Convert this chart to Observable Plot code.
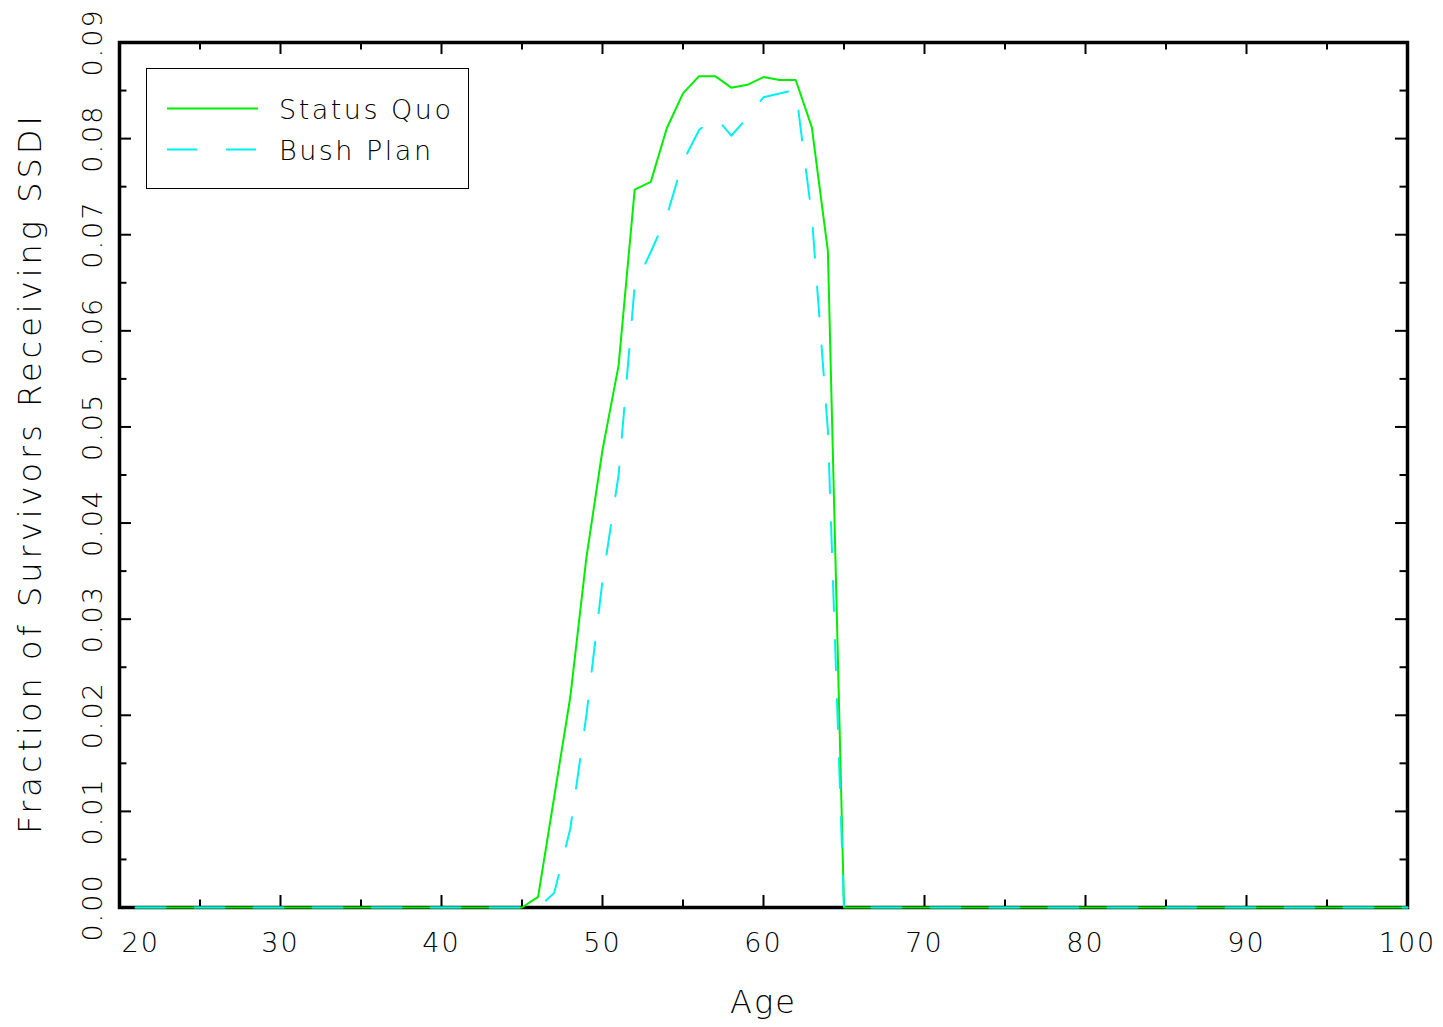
<!DOCTYPE html>
<html>
<head>
<meta charset="utf-8">
<script src="https://cdn.jsdelivr.net/npm/d3@7"></script>
<script src="https://cdn.jsdelivr.net/npm/@observablehq/plot@0.6"></script>
<style>
  body { margin: 0; background: #fff; }
  #wrap { position: relative; width: 1443px; height: 1027px; font-family: "DejaVu Sans", sans-serif; }
  #wrap svg text { letter-spacing: 2px; font-weight: 300; }
  #legend { position: absolute; left: 146px; top: 68px; width: 321px; height: 119px; border: 1.5px solid #000; background: #fff; }
  #legend svg { position: absolute; left: 0; top: 0; }
  .lt { position: absolute; left: 132px; font-size: 27px; letter-spacing: 2.5px; line-height: 1; color: #000; font-weight: 300; }
</style>
</head>
<body>
<div id="wrap"></div>
<script>
// Ages and series values (fraction of survivors receiving SSDI)
const ages = d3.range(21, 101);
const statusQuoNonZero = {46: 0.0011, 47: 0.0115, 48: 0.0219, 49: 0.0364, 50: 0.0476, 51: 0.0564, 52: 0.0747, 53: 0.0755, 54: 0.0811, 55: 0.0847, 56: 0.0865, 57: 0.0865, 58: 0.0853, 59: 0.0856, 60: 0.0864, 61: 0.0861, 62: 0.0861, 63: 0.0812, 64: 0.0683};
const bushPlanNonZero = {47: 0.0015, 48: 0.0082, 49: 0.0200, 50: 0.0340, 51: 0.0450, 52: 0.0647, 53: 0.0682, 54: 0.0720, 55: 0.0776, 56: 0.0809, 57: 0.0823, 58: 0.0803, 59: 0.0822, 60: 0.0843, 61: 0.0847, 62: 0.0851, 63: 0.0720, 64: 0.0496};
const seriesNames = ["Status Quo", "Bush Plan"];
const xTickLabels = [20, 30, 40, 50, 60, 70, 80, 90, 100];
const xMinorTicks = [25, 35, 45, 55, 65, 75, 85, 95];
const yTickLabels = [0, 0.01, 0.02, 0.03, 0.04, 0.05, 0.06, 0.07, 0.08, 0.09];
const yMinorTicks = [0.005, 0.015, 0.025, 0.035, 0.045, 0.055, 0.065, 0.075, 0.085];
const xTitle = "Age";
const yTitle = "Fraction of Survivors Receiving SSDI";

const sq = ages.map(a => ({age: a, value: statusQuoNonZero[a] ?? 0}));
const bp = ages.map(a => ({age: a, value: bushPlanNonZero[a] ?? 0}));

const GREEN = "#00ee00", CYAN = "#00f0f0";
const MAJ = 12, MIN = 7.5;

const chart = Plot.plot({
  width: 1443, height: 1027,
  marginLeft: 119, marginRight: 36, marginTop: 42, marginBottom: 120,
  x: {domain: [20, 100], axis: null},
  y: {domain: [0, 0.09], axis: null},
  style: {fontFamily: "DejaVu Sans, sans-serif", background: "#fff", overflow: "visible"},
  marks: [
    // ticks bottom / top
    Plot.ruleX(xTickLabels, {x: d => d, y1: 0, y2: 0, insetBottom: MAJ, stroke: "#000", strokeWidth: 2}),
    Plot.ruleX(xMinorTicks, {x: d => d, y1: 0, y2: 0, insetBottom: MIN, stroke: "#000", strokeWidth: 2}),
    Plot.ruleX(xTickLabels, {x: d => d, y1: 0.09, y2: 0.09, insetBottom: -MAJ, stroke: "#000", strokeWidth: 2}),
    Plot.ruleX(xMinorTicks, {x: d => d, y1: 0.09, y2: 0.09, insetBottom: -MIN, stroke: "#000", strokeWidth: 2}),
    // ticks left / right
    Plot.ruleY(yTickLabels, {y: d => d, x1: 20, x2: 20, insetRight: -MAJ, stroke: "#000", strokeWidth: 2}),
    Plot.ruleY(yMinorTicks, {y: d => d, x1: 20, x2: 20, insetRight: -MIN, stroke: "#000", strokeWidth: 2}),
    Plot.ruleY(yTickLabels, {y: d => d, x1: 100, x2: 100, insetRight: MAJ, stroke: "#000", strokeWidth: 2}),
    Plot.ruleY(yMinorTicks, {y: d => d, x1: 100, x2: 100, insetRight: MIN, stroke: "#000", strokeWidth: 2}),
    Plot.frame({stroke: "#000", strokeWidth: 3.5}),
    Plot.line(sq, {x: "age", y: "value", stroke: GREEN, strokeWidth: 2}),
    Plot.line(bp, {x: "age", y: "value", stroke: CYAN, strokeWidth: 2, strokeDasharray: "30,29"}),
    // tick labels
    Plot.text(xTickLabels.filter(d => d !== 20), {x: d => d, y: 0, dy: 36, text: d => String(d), fontSize: 27, fill: "#000"}),
    Plot.text(xTickLabels.filter(d => d === 20), {x: d => d, y: 0, dy: 36, dx: 2, textAnchor: "start", text: d => String(d), fontSize: 27, fill: "#000"}),
    Plot.text(yTickLabels, {x: 20, y: d => d, dx: -26, rotate: -90, text: d => d.toFixed(2), fontSize: 27, fill: "#000"}),
    // axis titles
    Plot.text([xTitle], {frameAnchor: "bottom", dy: 105, text: d => d, fontSize: 32, fill: "#000"}),
    Plot.text([yTitle], {frameAnchor: "left", textAnchor: "middle", dx: -89, dy: -2, rotate: -90, text: d => d, fontSize: 32, fill: "#000"})
  ]
});

// wider letter spacing for the y-axis title, as in the reference
d3.select(chart).selectAll("text").filter(function () { return this.textContent === yTitle; })
  .style("letter-spacing", "4px");

const wrap = document.getElementById("wrap");
wrap.appendChild(chart);

// Legend (inside plot area, top-left)
const legend = document.createElement("div");
legend.id = "legend";
legend.innerHTML = `
  <svg width="321" height="119">
    <line x1="20" x2="111" y1="39.5" y2="39.5" stroke="${GREEN}" stroke-width="2"/>
    <line x1="20" x2="111" y1="80.5" y2="80.5" stroke="${CYAN}" stroke-width="2" stroke-dasharray="30,29"/>
  </svg>
  <div class="lt" style="top:27px">${seriesNames[0]}</div>
  <div class="lt" style="top:68px">${seriesNames[1]}</div>`;
wrap.appendChild(legend);
</script>
</body>
</html>
